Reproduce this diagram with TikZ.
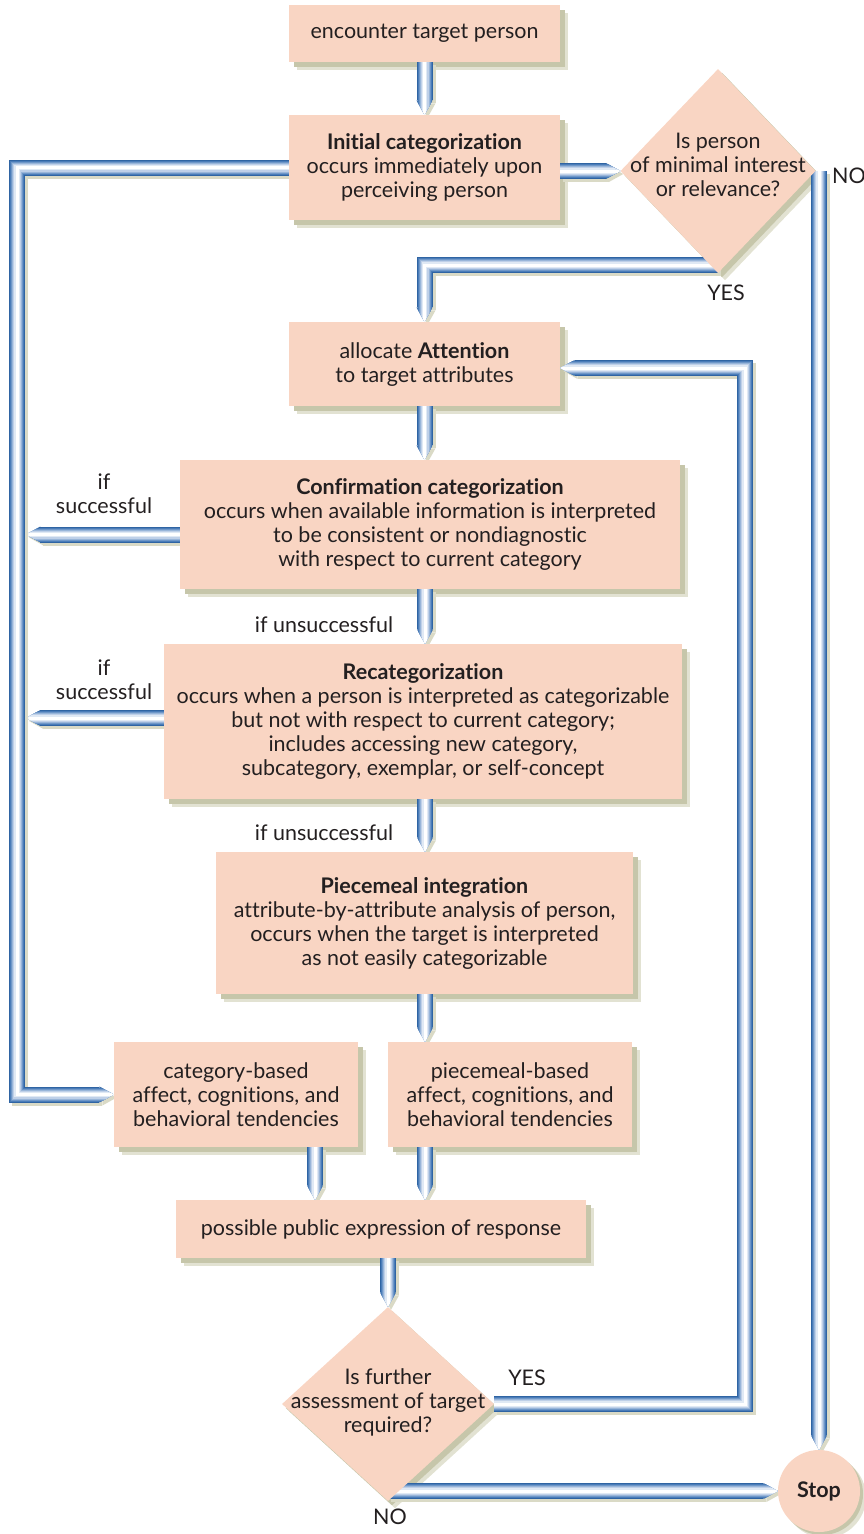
\documentclass[tikz,border=0pt]{standalone}
\usepackage{fontspec}
\setmainfont{Lato}[Ligatures=NoCommon]
\usetikzlibrary{arrows.meta,shapes.geometric,calc}
\definecolor{boxfill}{HTML}{F9D5C3}
\definecolor{txt}{HTML}{231F20}
\definecolor{shA}{HTML}{E2E2D2}
\definecolor{shB}{HTML}{C6C6AA}
\definecolor{tb1}{HTML}{2F64A3}
\definecolor{tb2}{HTML}{4A7CB8}
\definecolor{tb3}{HTML}{6F97C8}
\definecolor{tb4}{HTML}{98B5D9}
\definecolor{tb5}{HTML}{BFD0E8}
\definecolor{tb6}{HTML}{E0E9F4}
\definecolor{tsh}{HTML}{DADAC6}
\pgfdeclarelayer{shad}
\pgfdeclarelayer{tubes}
\pgfsetlayers{shad,tubes,main}
\tikzset{
  base/.style={font=\fontsize{21.5}{24}\selectfont, text=txt, align=center},
  box/.style={base, rectangle, fill=boxfill, inner sep=0pt},
  dia/.style={diamond, fill=boxfill, inner sep=0pt},
  lbl/.style={base, inner sep=0pt},
  tiptri/.style={-{Triangle[length=0pt 0.9,width=0pt 1,line width=0pt]}},
  tube/.style={line join=miter, tiptri,
    preaction={draw=tsh, line width=16pt, transform canvas={shift={(3pt,-3pt)}}},
    preaction={draw=tb1, line width=16pt},
    preaction={draw=tb2, line width=14pt},
    preaction={draw=tb3, line width=12pt},
    preaction={draw=tb4, line width=10pt},
    preaction={draw=tb5, line width=8pt},
    preaction={draw=tb6, line width=5.5pt},
    draw=white, line width=3pt}
}
\begin{document}
\begin{tikzpicture}[x=1pt,y=-1pt]
\useasboundingbox (0,0) rectangle (864,1534);
% boxes
\node[box, minimum width=271pt, minimum height=57pt] (enc) at (424.5,33.5) {encounter target person};
\node[box, minimum width=271pt, minimum height=105pt] (init) at (424.5,167.5) {\textbf{Initial categorization}\\occurs immediately upon\\perceiving person};
\node[dia, minimum width=195pt, minimum height=204pt] (d1) at (718,171) {};
\node[lbl] (d1t) at (718,165) {Is person\\of minimal interest\\or relevance?};
\node[box, minimum width=271pt, minimum height=84pt] (attn) at (424.5,364) {allocate \textbf{Attention}\\to target attributes};
\node[box, minimum width=500pt, minimum height=129pt] (conf) at (430,524.5) {\textbf{Confirmation categorization}\\occurs when available information is interpreted\\to be consistent or nondiagnostic\\with respect to current category};
\node[box, minimum width=518pt, minimum height=155pt] (recat) at (423,721.5) {\textbf{Recategorization}\\occurs when a person is interpreted as categorizable\\but not with respect to current category;\\includes accessing new category,\\subcategory, exemplar, or self-concept};
\node[box, minimum width=417pt, minimum height=142pt] (piece) at (424.5,923) {\textbf{Piecemeal integration}\\attribute-by-attribute analysis of person,\\occurs when the target is interpreted\\as not easily categorizable};
\node[box, minimum width=244pt, minimum height=105pt] (catb) at (236,1094.5) {category-based\\affect, cognitions, and\\behavioral tendencies};
\node[box, minimum width=244pt, minimum height=105pt] (pieceb) at (510,1094.5) {piecemeal-based\\affect, cognitions, and\\behavioral tendencies};
\node[box, minimum width=410pt, minimum height=58pt] (pub) at (381,1229) {possible public expression of response};
\node[dia, minimum width=212pt, minimum height=194pt] (d2) at (388,1404) {};
\node[lbl] (d2t) at (388,1402) {Is further\\assessment of target\\required?};
\node[base, circle, fill=boxfill, minimum size=82pt, inner sep=0pt] (stop) at (819,1491) {\textbf{Stop}};
% labels
\node[lbl] (ls1) at (104,494) {if\\successful};
\node[lbl] (ls2) at (104,680) {if\\successful};
\node[lbl] (lu1) at (324,625) {if unsuccessful};
\node[lbl] (lu2) at (324,833) {if unsuccessful};
\node[lbl, anchor=west] (no1) at (832,176) {NO};
\node[lbl] (yes1) at (726,293) {YES};
\node[lbl] (yes2) at (527,1378) {YES};
\node[lbl] (no2) at (390,1517) {NO};
% helper coordinates
\coordinate (ax) at (425,0);
\coordinate (lr) at (17,0);
\coordinate (rr) at (745,0);
\coordinate (ya) at ($(attn.east)+(0,4)$);
\coordinate (cb) at ($(catb.south)+(79,0)$);
\coordinate (cs) at ($(conf.west)+(0,10)$);
\coordinate (rs) at ($(recat.west)+(0,-3.5)$);
% shadows
\begin{pgfonlayer}{shad}
\foreach \n in {enc,init,attn,conf,recat,piece,catb,pieceb,pub}{
  \fill[shA] ($(\n.north west)+(8,8)$) rectangle ($(\n.south east)+(8,8)$);
  \fill[shB] ($(\n.north west)+(5,5)$) rectangle ($(\n.south east)+(5,5)$);
}
\foreach \n in {d1,d2}{
  \fill[shA] ($(\n.north)+(7,7)$) -- ($(\n.east)+(7,7)$) -- ($(\n.south)+(7,7)$) -- ($(\n.west)+(7,7)$) -- cycle;
  \fill[shB] ($(\n.north)+(4,4)$) -- ($(\n.east)+(4,4)$) -- ($(\n.south)+(4,4)$) -- ($(\n.west)+(4,4)$) -- cycle;
}
\fill[shA] ($(stop.center)+(6,6)$) circle (41pt);
\fill[shB] ($(stop.center)+(3,3)$) circle (41pt);
\end{pgfonlayer}
% tubes
\begin{pgfonlayer}{tubes}
\draw[tube] (enc.south) -- (init.north);
\draw[tube] (init.east |- d1.west) -- (d1.west);
\draw[tube] (stop.north |- d1.east) -- (stop.north);
\draw[tube] ($(d1.south)+(0,-8)$) -| (attn.north);
\draw[tube] (attn.south) -- (attn.south |- conf.north);
\draw[tube] (conf.south -| ax) -- (recat.north -| ax);
\draw[tube] (recat.south -| ax) -- (piece.north -| ax);
\draw[tube] (piece.south -| ax) -- (pieceb.north -| ax);
\draw[tube] (cb) -- (cb |- pub.north);
\draw[tube] (pieceb.south -| ax) -- (pub.north -| ax);
\draw[tube] (pub.south -| d2.north) -- (d2.north);
\draw[tube] (d2.east) -- (d2.east -| rr) -- (rr |- ya) -- (ya);
\draw[tube] (stop.west -| d2.south) -- (stop.west);
\draw[tube] (cs) -- ($(cs -| lr)+(9,0)$);
\draw[tube] (rs) -- ($(rs -| lr)+(9,0)$);
\draw[tube] (init.west) -- (init.west -| lr) -- (catb.west -| lr) -- (catb.west);
\end{pgfonlayer}
\end{tikzpicture}
\end{document}
